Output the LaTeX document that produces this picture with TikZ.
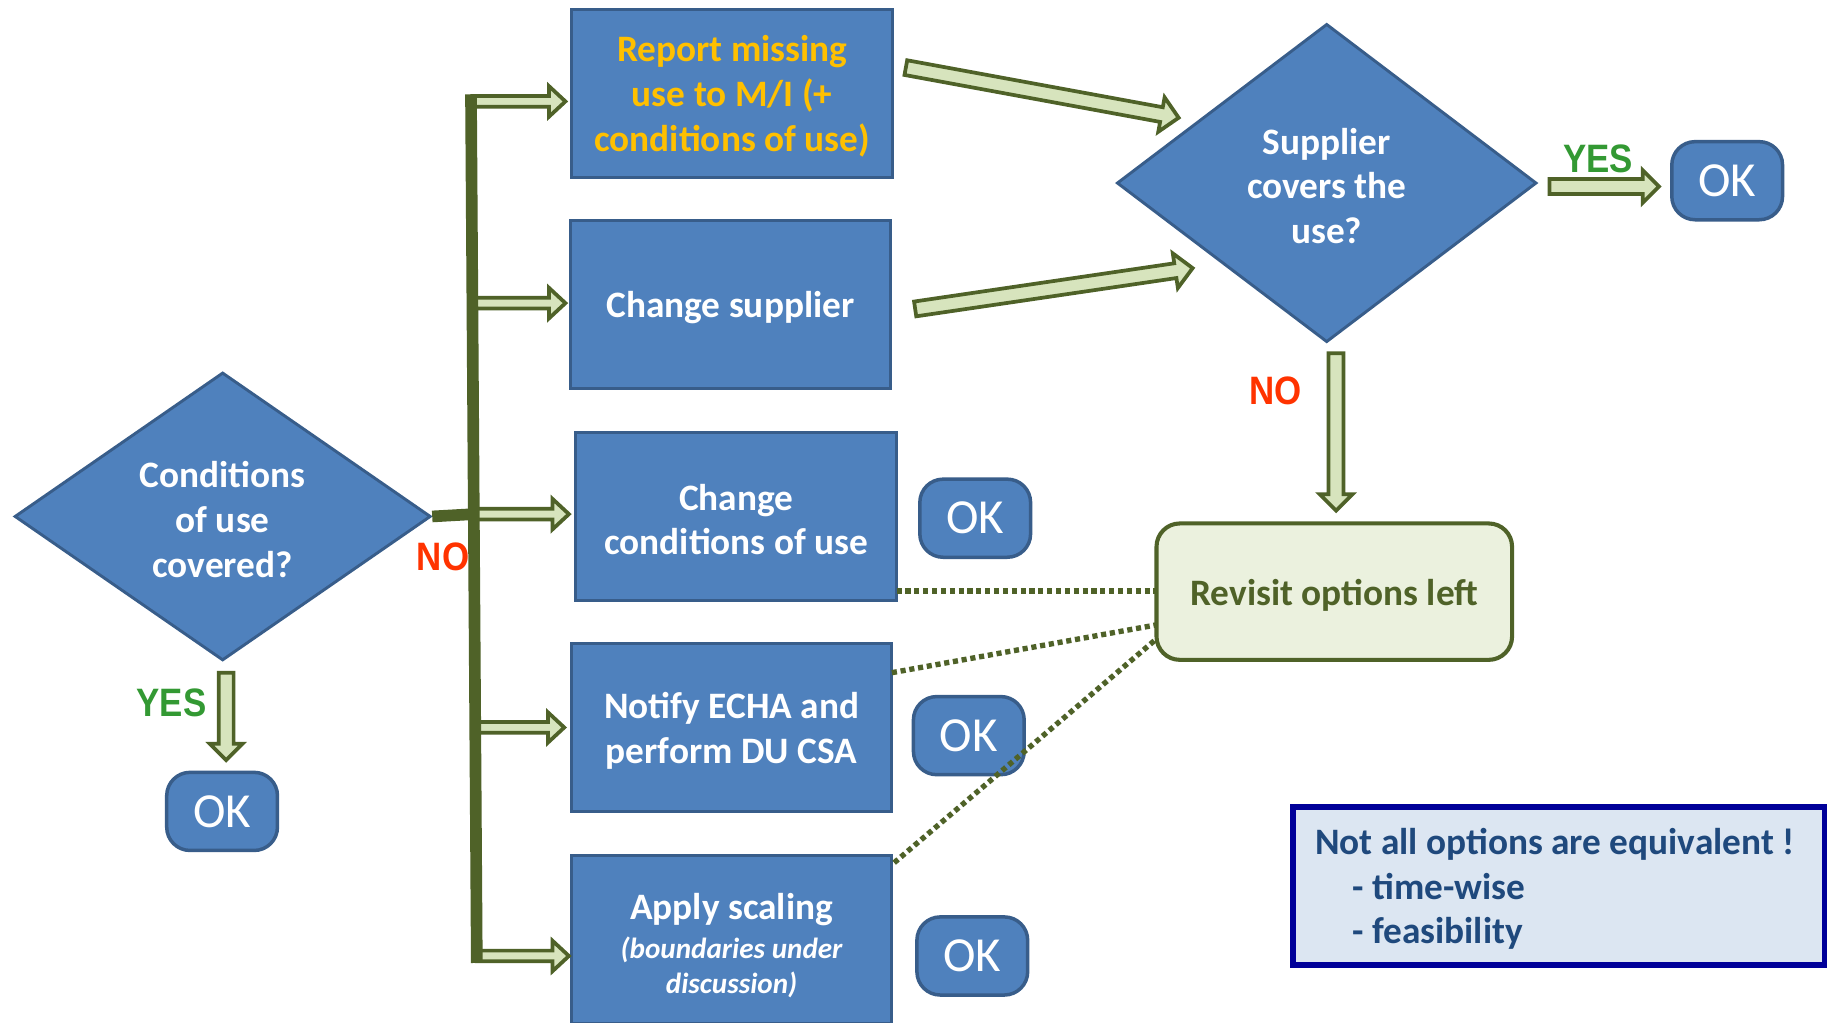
\documentclass[tikz,border=0pt]{standalone}
\usepackage{fontspec}
\setmainfont{Carlito}
\newfontfamily\ynfont{Liberation Sans}
\usepackage{graphicx}
\usetikzlibrary{shapes.geometric,calc}
\definecolor{boxfill}{HTML}{4F81BD}
\definecolor{boxline}{HTML}{385D8A}
\definecolor{olivedk}{HTML}{4F6228}
\definecolor{arrfill}{HTML}{D7E4BD}
\definecolor{revfill}{HTML}{EBF1DE}
\definecolor{goldtxt}{HTML}{FFC000}
\definecolor{yesgreen}{HTML}{339933}
\definecolor{nored}{HTML}{FF3300}
\definecolor{notefill}{HTML}{DCE6F2}
\definecolor{noteline}{HTML}{000099}
\definecolor{notetext}{HTML}{1F497D}
\newcommand\tup{\rule{0pt}{13.8pt}}
\newcommand\fatarrow[5]{%
  \path[fatstyle] let \p1=($(#2)-(#1)$), \n1={atan2(\y1,\x1)} in
    ($(#1)+(\n1+90:#3)$) -- ($(#2)+(\n1+180:#5)+(\n1+90:#3)$) --
    ($(#2)+(\n1+180:#5)+(\n1+90:#4)$) -- (#2) --
    ($(#2)+(\n1+180:#5)+(\n1-90:#4)$) -- ($(#2)+(\n1+180:#5)+(\n1-90:#3)$) --
    ($(#1)+(\n1-90:#3)$) -- cycle;}
\tikzset{
  mainfont/.style={font=\fontsize{16}{19.2}\selectfont\bfseries},
  box/.style={rectangle, draw=boxline, fill=boxfill, line width=1.25pt,
    minimum width=137.5pt, minimum height=72pt, align=center, text=white,
    mainfont, inner sep=2pt},
  dia/.style={diamond, draw=boxline, fill=boxfill, line width=1.25pt,
    align=center, text=white, mainfont, inner sep=0pt},
  okbox/.style={rectangle, rounded corners=10pt, draw=boxline, fill=boxfill,
    line width=1.5pt, minimum width=47.5pt, minimum height=33.5pt, text=white,
    font=\fontsize{21}{24}\selectfont, inner sep=0pt},
  yn/.style={font=\ynfont\fontsize{17}{20}\selectfont\bfseries, inner sep=0pt},
  fatstyle/.style={draw=olivedk, fill=arrfill, line width=1.6pt, line join=miter},
  trunk/.style={draw=olivedk, line width=5pt},
  dots/.style={draw=olivedk, line width=2.3pt, dash pattern=on 2.2pt off 1.6pt},
  revbox/.style={rectangle, rounded corners=10pt, draw=olivedk, fill=revfill,
    line width=1.75pt, minimum width=152.5pt, minimum height=58.5pt,
    text=olivedk, mainfont},
  note/.style={rectangle, draw=noteline, fill=notefill, line width=2.5pt,
    minimum width=228pt, minimum height=68pt, text width=209pt, align=flush left,
    inner xsep=9.5pt, text=notetext, font=\fontsize{16}{19.2}\selectfont\bfseries},
}
\begin{document}
\begin{tikzpicture}[x=0.5pt,y=-0.5pt]
\useasboundingbox (0,0) rectangle (1568,877);
\fill[white] (0,0) rectangle (1568,877);

% decision diamonds
\node[dia, minimum width=178.5pt, minimum height=123.5pt, aspect=1.445] (q1) at (191,443) {\tup Conditions\\of use\\covered?};
\node[dia, minimum width=180pt, minimum height=136.5pt, aspect=1.32] (q2) at (1138,157) {\tup Supplier\\covers the\\use?};

% option boxes
\node[box, text=goldtxt] (b1) at (628,80) {\tup Report missing\\use to M/I (+\\conditions of use)};
\node[box] (b2) at (626.5,261) {\tup Change supplier};
\node[box] (b3) at (631.5,443) {\tup Change\\conditions of use};
\node[box] (b4) at (627.5,624) {\tup Notify ECHA and\\perform DU CSA};
\node[box] (b5) at (627.5,806) {\rule{0pt}{16pt}Apply scaling\\[-2.5pt]{\fontsize{12.5}{15}\selectfont\itshape (boundaries under}\\[-4.2pt]{\fontsize{12.5}{15}\selectfont\itshape discussion)}};

% OK terminals
\node[okbox] (okL) at (190.5,696) {OK};
\node[okbox] (ok3) at (836.5,444.5) {OK};
\node[okbox] (ok4) at (831,631) {OK};
\node[okbox] (ok5) at (834,820) {OK};
\node[okbox] (okR) at (1481.5,155) {OK};

% revisit and note
\node[revbox] (rev) at (1144.5,507.5) {\rule{0pt}{14.5pt}Revisit options left};
\node[note] (note) at (1337,760) {\tup Not all options are equivalent !\\\hspace*{16pt}- time-wise\\\hspace*{16pt}- feasibility};

% labels
\node[yn, text=yesgreen] (yesL) at (147,603) {\scalebox{0.88}[1]{YES}};
\node[yn, text=nored] (noL) at (380,478) {\scalebox{0.88}[1]{NO}};
\node[yn, text=yesgreen] (yesR) at (1371,136) {\scalebox{0.88}[1]{YES}};
\node[yn, text=nored] (noR) at (1094,335) {\scalebox{0.88}[1]{NO}};

% coordinates
\coordinate (t0) at (404,81);
\coordinate (t1) at (409,826);
\coordinate (tj) at (406.5,441);
\coordinate (s1) at (405,87);   \coordinate (e1) at (485,87);
\coordinate (s2) at (406,260);  \coordinate (e2) at (485,260);
\coordinate (s3) at (407,441);  \coordinate (e3) at (488,441);
\coordinate (s4) at (408,624);  \coordinate (e4) at (484,624);
\coordinate (s5) at (409,820);  \coordinate (e5) at (488,820);
\coordinate (u1) at (777,58);   \coordinate (v1) at (1011,101);
\coordinate (u2) at (785,265);  \coordinate (v2) at (1023,230);
\coordinate (yr1) at (1329,160); \coordinate (yr2) at (1423,160);
\coordinate (nr1) at (1146,303); \coordinate (nr2) at (1146,438);
\coordinate (yl1) at (194,577); \coordinate (yl2) at (194,652);
\coordinate (d3) at (769,507);  \coordinate (r3) at (992,507);
\coordinate (d4) at (765,577);  \coordinate (r4) at (992,536);
\coordinate (d5) at (767,740);  \coordinate (r5) at (992,548);

% dotted links
\draw[dots] (d3) -- (r3);
\draw[dots] (d4) -- (r4);
\draw[dots] (d5) -- (r5);

% branch arrows
\fatarrow{s1}{e1}{2.3pt}{6.5pt}{7pt}
\fatarrow{s2}{e2}{2.3pt}{6.5pt}{7pt}
\fatarrow{s3}{e3}{2.3pt}{6.5pt}{7pt}
\fatarrow{s4}{e4}{2.3pt}{6.5pt}{7pt}
\fatarrow{s5}{e5}{2.3pt}{6.5pt}{7pt}

% trunk
\draw[trunk] (q1.east) -- (tj);
\draw[trunk] (t0) -- (t1);

% long arrows
\fatarrow{u1}{v1}{3.2pt}{7.5pt}{7.5pt}
\fatarrow{u2}{v2}{3.2pt}{7.5pt}{7.5pt}
\fatarrow{yr1}{yr2}{3.2pt}{7pt}{7pt}
\fatarrow{nr1}{nr2}{3.2pt}{7pt}{7pt}
\fatarrow{yl1}{yl2}{3.2pt}{7pt}{7pt}
\end{tikzpicture}
\end{document}
